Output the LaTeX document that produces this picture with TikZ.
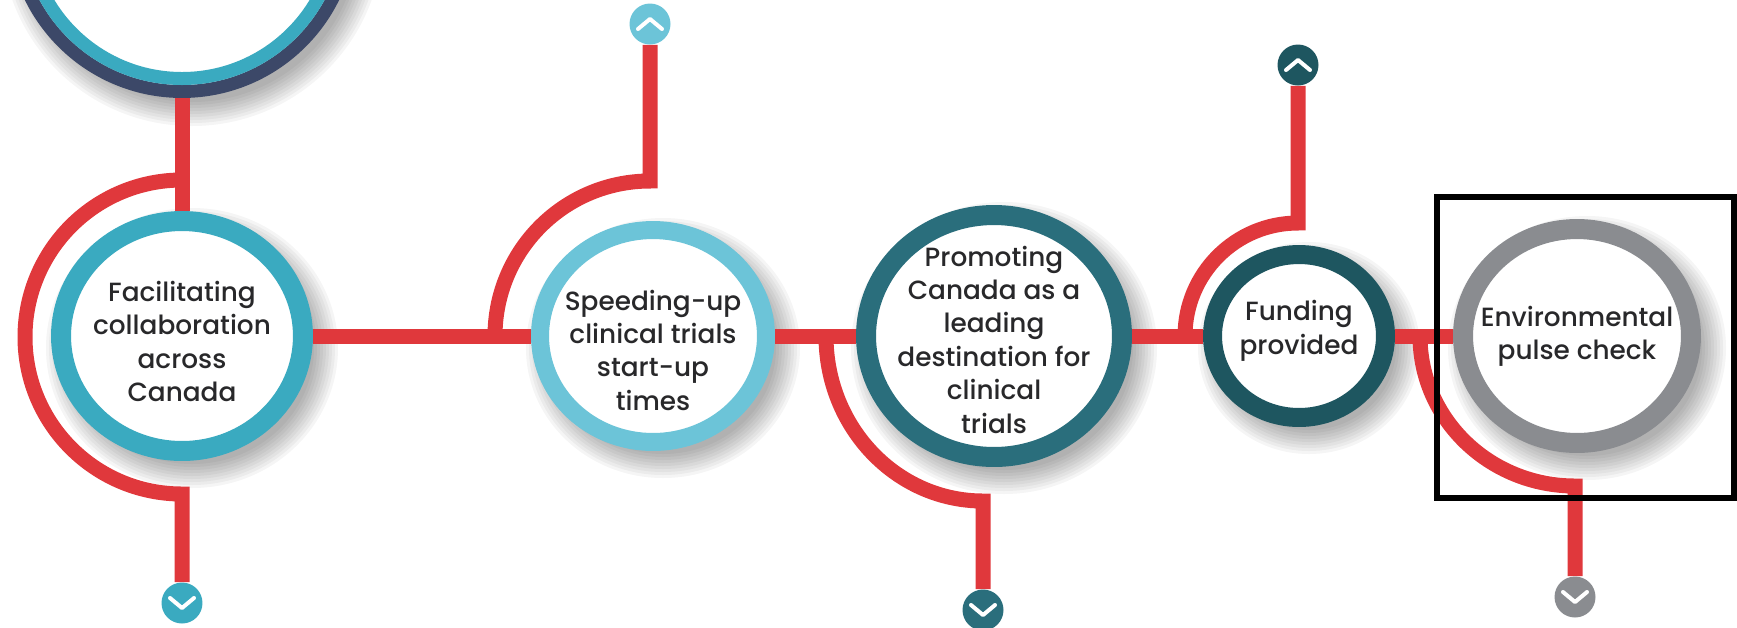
\documentclass[tikz,border=0pt]{standalone}
\usepackage{fontspec}
\setmainfont{Poppins}[UprightFont={* Medium}]
\usetikzlibrary{shapes.geometric}
\pgfdeclarelayer{shade}
\pgfdeclarelayer{lines}
\pgfsetlayers{shade,lines,main}
\definecolor{cred}{RGB}{224,56,60}
\definecolor{cteal}{RGB}{58,170,192}
\definecolor{cnavy}{RGB}{60,72,104}
\definecolor{clight}{RGB}{108,196,216}
\definecolor{cdteal}{RGB}{42,110,124}
\definecolor{cfund}{RGB}{30,86,96}
\definecolor{cgray}{RGB}{138,140,144}
\definecolor{ctext}{RGB}{40,40,42}
\newcommand\mychevdown[1]{\draw[chev] ([shift={(-12,-5)}]#1.center) -- ([shift={(0,5)}]#1.center) -- ([shift={(12,-5)}]#1.center);}
\newcommand\mychevup[1]{\draw[chev] ([shift={(-12,5)}]#1.center) -- ([shift={(0,-5)}]#1.center) -- ([shift={(12,5)}]#1.center);}
\begin{document}
\begin{tikzpicture}[x=0.02cm,y=-0.02cm,
  ring/.style={ellipse, draw=#1, fill=white, inner sep=0pt},
  txt/.style={text=ctext, align=center, font=\fontsize{15}{19}\selectfont},
  redline/.style={draw=cred, line width=0.3cm},
  chevbox/.style={circle, fill=#1, minimum size=0.82cm, inner sep=0pt},
  chev/.style={draw=white, line width=0.08cm, line cap=round, line join=round},
]
\useasboundingbox (0,0) rectangle (1737,627);
\clip (0,0) rectangle (1737,627);

% top partial circle
\node[ring=cnavy, line width=0.26cm, minimum size=6.74cm] (top) at (182,-77) {};
\draw[cteal, line width=0.26cm] (top.center) circle [radius=155.5];

% main circles
\node[ring=cteal, line width=0.4cm, minimum width=4.84cm, minimum height=4.6cm,
  label={[txt, yshift=-3pt]center:Facilitating\\collaboration\\across\\Canada}] (c1) at (182,336) {};
\node[ring=clight, line width=0.36cm, minimum width=4.52cm, minimum height=4.24cm,
  label={[txt, yshift=-8pt]center:Speeding-up\\clinical trials\\start-up\\times}] (c2) at (653,336) {};
\node[ring=cdteal, line width=0.4cm, minimum width=5.12cm, minimum height=4.84cm,
  label={[txt, yshift=-2pt]center:Promoting\\Canada as a\\leading\\destination for\\clinical\\trials}] (c3) at (994,336) {};
\node[ring=cfund, line width=0.38cm, minimum width=3.46cm, minimum height=3.26cm,
  label={[txt, yshift=3pt]center:Funding\\provided}] (c4) at (1299,336) {};
\node[ring=cgray, line width=0.4cm, minimum width=4.56cm, minimum height=4.28cm,
  label={[txt]center:Environmental\\pulse check}] (c5) at (1577,336) {};

% chevron end markers
\node[chevbox=cteal] (d1) at (182,603) {};
\node[chevbox=clight] (u2) at (650,24) {};
\node[chevbox=cdteal] (d3) at (983,610) {};
\node[chevbox=cfund] (u4) at (1298,65) {};
\node[chevbox=cgray] (d5) at (1575,597) {};
\mychevdown{d1}
\mychevup{u2}
\mychevdown{d3}
\mychevup{u4}
\mychevdown{d5}

% junctions
\coordinate (j1) at (182,180);
\coordinate (j2) at (495,336);
\coordinate (j3) at (826,336);
\coordinate (j4) at (1185,336);
\coordinate (j5) at (1420,336);

\begin{pgfonlayer}{lines}
\draw[redline] (top) -- (c1);
\draw[redline] (c1) -- (c2);
\draw[redline] (c2) -- (c3);
\draw[redline] (c3) -- (c4);
\draw[redline] (c4) -- (c5);
\draw[redline] (j1) arc[start angle=270, end angle=90, radius=157] -- (d1);
\draw[redline] (j2) arc[start angle=180, end angle=270, radius=155] -- (u2);
\draw[redline] (j3) arc[start angle=180, end angle=90, x radius=157, y radius=165] -- (d3);
\draw[redline] (j4) arc[start angle=180, end angle=270, radius=113] -- (u4);
\draw[redline] (j5) arc[start angle=180, end angle=90, x radius=155, y radius=150] -- (d5);
\end{pgfonlayer}

\begin{pgfonlayer}{shade}
\foreach \n/\rx/\ry in {top/176/176, c1/131/125, c2/122/115, c3/138/131, c4/96/91, c5/124/117}{
  \foreach \k in {0,...,8}{
    \fill[black, opacity=0.04] ([shift={(10,12)}]\n.center) ellipse [x radius={\rx+15-3*\k}, y radius={\ry+15-3*\k}];
  }
}
\end{pgfonlayer}

% highlight frame
\node[draw=black, line width=0.12cm, minimum width=5.94cm, minimum height=6.02cm, inner sep=0pt] (frame) at (1585.5,347.5) {};
\end{tikzpicture}
\end{document}
